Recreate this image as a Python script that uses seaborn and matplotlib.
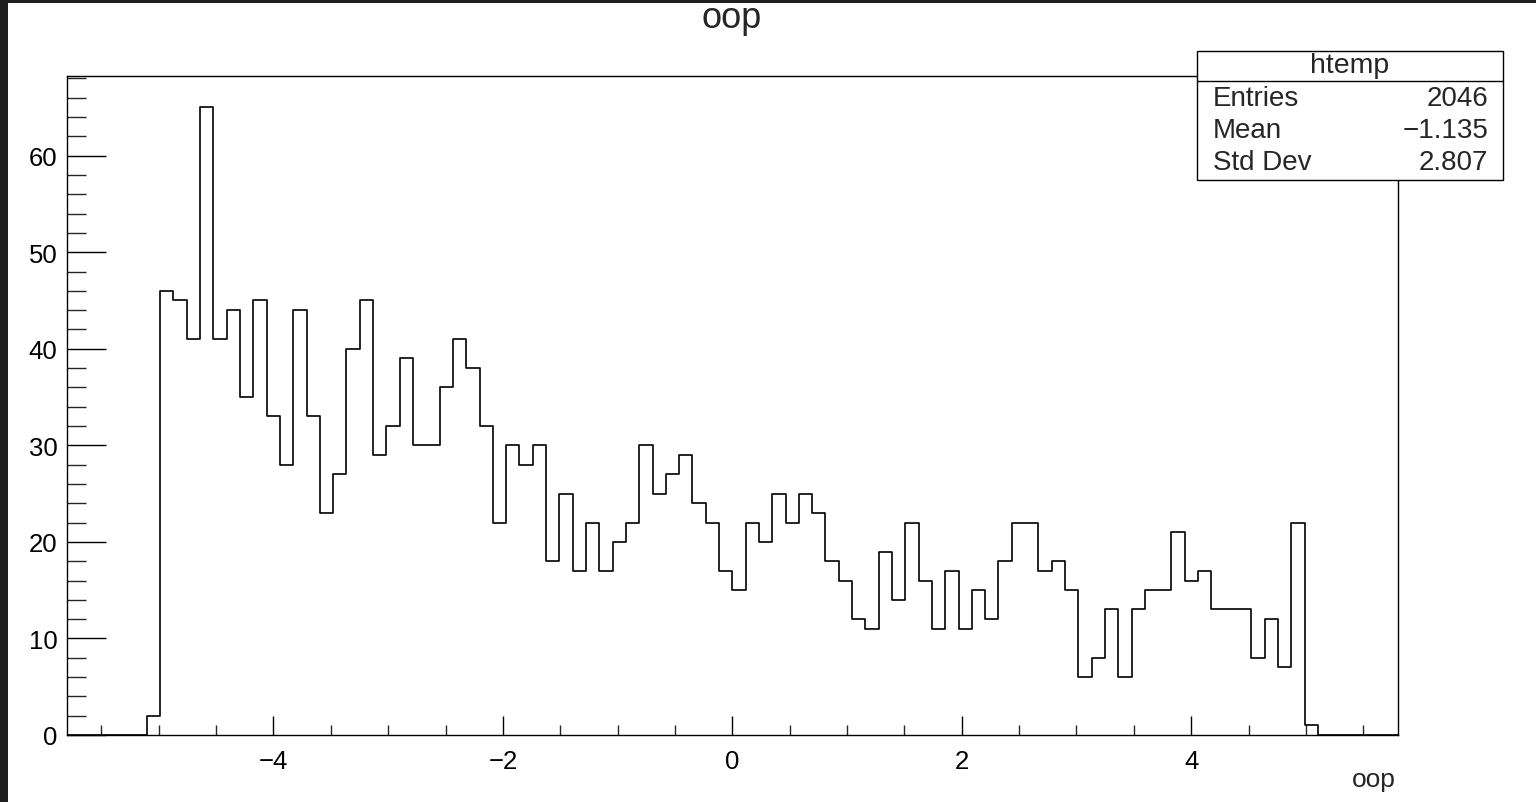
import numpy as np
import pandas as pd
import matplotlib
matplotlib.use("Agg")
import matplotlib.pyplot as plt
from matplotlib.patches import Rectangle
from matplotlib.lines import Line2D
from matplotlib.ticker import MultipleLocator
import seaborn as sns

# ---- data ----
x_min, x_max, n_bins = -5.8, 5.8, 100
leading_zero_bins = 6
counts_nonzero = [
    2, 46, 45, 41, 65, 41, 44, 35, 45, 33,
    28, 44, 33, 23, 27, 40, 45, 29, 32, 39,
    30, 30, 36, 41, 38, 32, 22, 30, 28, 30,
    18, 25, 17, 22, 17, 20, 22, 30, 25, 27,
    29, 24, 22, 17, 15, 22, 20, 25, 22, 25,
    23, 18, 16, 12, 11, 19, 14, 22, 16, 11,
    17, 11, 15, 12, 18, 22, 22, 17, 18, 15,
    6, 8, 13, 6, 13, 15, 15, 21, 16, 17,
    13, 13, 13, 8, 12, 7, 22, 1,
]
stats_title = "htemp"
stats_names = ["Entries", "Mean", "Std Dev"]
stats_values = ["2046", "\u22121.135", "2.807"]
title = "oop"
xlabel = "oop"
y_max = 68.25

counts = np.zeros(n_bins)
counts[leading_zero_bins:leading_zero_bins + len(counts_nonzero)] = counts_nonzero
edges = np.linspace(x_min, x_max, n_bins + 1)
centers = 0.5 * (edges[:-1] + edges[1:])
df = pd.DataFrame({"oop": centers, "n": counts})

# ---- figure ----
sns.set_theme(style="white")
plt.rcParams['font.family'] = ['Liberation Sans', 'DejaVu Sans']
plt.rcParams['axes.unicode_minus'] = True

W, H, DPI = 1536, 803, 100
fig = plt.figure(figsize=(W / DPI, H / DPI), dpi=DPI, facecolor="white")

# dark border strips (screenshot frame)
fig.patches.append(Rectangle((0, 0), 8 / W, 1, transform=fig.transFigure,
                             facecolor="#1f1f1f", edgecolor="none", zorder=10))
fig.patches.append(Rectangle((0, 1 - 4 / H), 1, 4 / H, transform=fig.transFigure,
                             facecolor="#1f1f1f", edgecolor="none", zorder=10))

left, right, top, bottom = 67, 1397.7, 77, 736
ax = fig.add_axes([left / W, 1 - bottom / H, (right - left) / W, (bottom - top) / H])

sns.histplot(data=df, x="oop", weights="n", bins=n_bins, binrange=(x_min, x_max),
             element="step", fill=False, color="black", linewidth=1.2, ax=ax)

ax.set_xlim(x_min, x_max)
ax.set_ylim(0, y_max)
ax.set_xlabel("")
ax.set_ylabel("")
for s in ax.spines.values():
    s.set_color("black")
    s.set_linewidth(1.0)

ax.xaxis.set_major_locator(MultipleLocator(2))
ax.xaxis.set_minor_locator(MultipleLocator(0.5))
ax.yaxis.set_major_locator(MultipleLocator(10))
ax.yaxis.set_minor_locator(MultipleLocator(2))
ax.tick_params(axis="x", which="major", direction="in", length=13.5, width=1.0,
               bottom=True, top=False, labelsize=18.5, pad=10, colors="black")
ax.tick_params(axis="x", which="minor", direction="in", length=7, width=1.0,
               bottom=True, top=False)
ax.tick_params(axis="y", which="major", direction="in", length=28, width=1.0,
               left=True, right=False, labelsize=18.5, pad=7, colors="black")
ax.tick_params(axis="y", which="minor", direction="in", length=14, width=1.0,
               left=True, right=False)

# title
fig.text(732 / W, 1 - 18 / H, title, ha="center", va="center", fontsize=26)
# x axis label
fig.text(1396 / W, 1 - 780 / H, xlabel, ha="right", va="center", fontsize=19)

# stats box
bx0, bx1, by0, by1 = 1197, 1503, 52, 181
fig.patches.append(Rectangle((bx0 / W, 1 - by1 / H), (bx1 - bx0) / W, (by1 - by0) / H,
                             transform=fig.transFigure, facecolor="white",
                             edgecolor="black", linewidth=1.0, zorder=5))
fig.lines.append(Line2D([bx0 / W, bx1 / W], [1 - 82 / H, 1 - 82 / H],
                        transform=fig.transFigure, color="black", linewidth=1.0, zorder=6))
fig.text((bx0 + bx1) / 2 / W, 1 - 66 / H, stats_title, ha="center", va="center",
         fontsize=20.5, zorder=7)
row_y = [99, 131, 163]
for name, val, yy in zip(stats_names, stats_values, row_y):
    fig.text(1213 / W, 1 - yy / H, name, ha="left", va="center", fontsize=20, zorder=7)
    fig.text(1488 / W, 1 - yy / H, val, ha="right", va="center", fontsize=20, zorder=7)

fig.savefig("out.png", dpi=DPI, facecolor="white")
